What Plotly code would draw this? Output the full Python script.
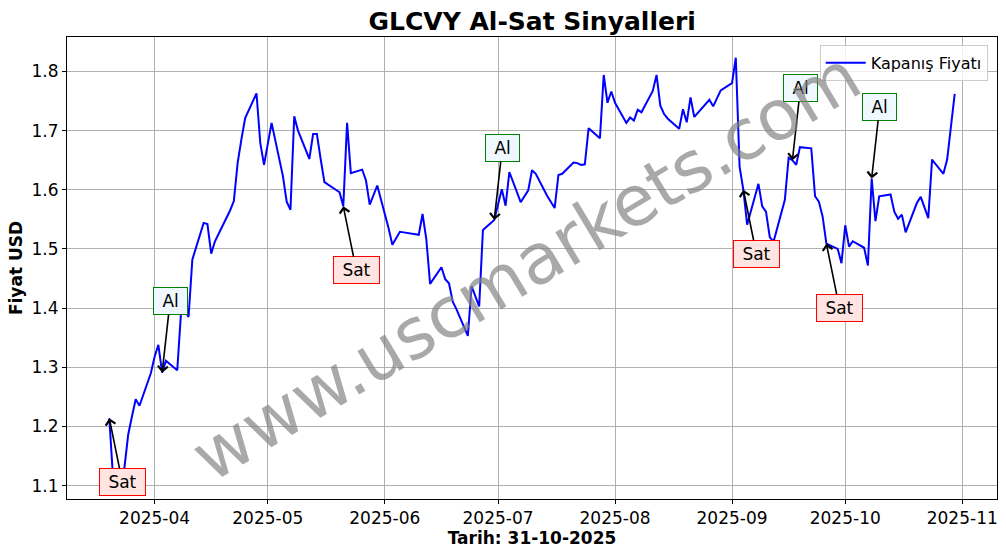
import plotly.graph_objects as go

dates = [
    "2025-03-20", "2025-03-21", "2025-03-24", "2025-03-25", "2025-03-26", "2025-03-27", "2025-03-28",
    "2025-03-31", "2025-04-01", "2025-04-02", "2025-04-03", "2025-04-04", "2025-04-07", "2025-04-08",
    "2025-04-09", "2025-04-10", "2025-04-11", "2025-04-14", "2025-04-15", "2025-04-16", "2025-04-17",
    "2025-04-21", "2025-04-22", "2025-04-23", "2025-04-24", "2025-04-25", "2025-04-28", "2025-04-29",
    "2025-04-30", "2025-05-01", "2025-05-02", "2025-05-05", "2025-05-06", "2025-05-07", "2025-05-08",
    "2025-05-09", "2025-05-12", "2025-05-13", "2025-05-14", "2025-05-15", "2025-05-16", "2025-05-19",
    "2025-05-20", "2025-05-21", "2025-05-22", "2025-05-23", "2025-05-26", "2025-05-27", "2025-05-28",
    "2025-05-29", "2025-05-30", "2025-06-02", "2025-06-03", "2025-06-04", "2025-06-05", "2025-06-06",
    "2025-06-09", "2025-06-10", "2025-06-11", "2025-06-12", "2025-06-13", "2025-06-16", "2025-06-17",
    "2025-06-18", "2025-06-19", "2025-06-20", "2025-06-23", "2025-06-24", "2025-06-25", "2025-06-26",
    "2025-06-27", "2025-06-30", "2025-07-01", "2025-07-02", "2025-07-03", "2025-07-04", "2025-07-07",
    "2025-07-08", "2025-07-09", "2025-07-10", "2025-07-11", "2025-07-14", "2025-07-15", "2025-07-16",
    "2025-07-17", "2025-07-18", "2025-07-21", "2025-07-22", "2025-07-23", "2025-07-24", "2025-07-25",
    "2025-07-28", "2025-07-29", "2025-07-30", "2025-07-31", "2025-08-01", "2025-08-04", "2025-08-05",
    "2025-08-06", "2025-08-07", "2025-08-08", "2025-08-11", "2025-08-12", "2025-08-13", "2025-08-14",
    "2025-08-15", "2025-08-18", "2025-08-19", "2025-08-20", "2025-08-21", "2025-08-22", "2025-08-25",
    "2025-08-26", "2025-08-27", "2025-08-28", "2025-08-29", "2025-09-01", "2025-09-02", "2025-09-03",
    "2025-09-04", "2025-09-05", "2025-09-08", "2025-09-09", "2025-09-10", "2025-09-11", "2025-09-12",
    "2025-09-15", "2025-09-16", "2025-09-17", "2025-09-18", "2025-09-19", "2025-09-22", "2025-09-23",
    "2025-09-24", "2025-09-25", "2025-09-26", "2025-09-29", "2025-09-30", "2025-10-01", "2025-10-02",
    "2025-10-03", "2025-10-06", "2025-10-07", "2025-10-08", "2025-10-09", "2025-10-10", "2025-10-13",
    "2025-10-14", "2025-10-15", "2025-10-16", "2025-10-17", "2025-10-20", "2025-10-21", "2025-10-22",
    "2025-10-23", "2025-10-24", "2025-10-27", "2025-10-28", "2025-10-29", "2025-10-30",
]

closes = [
    1.214, 1.113, 1.130, 1.186, 1.217, 1.246, 1.235,
    1.290, 1.318, 1.338, 1.291, 1.311, 1.295, 1.392,
    1.396, 1.385, 1.482, 1.544, 1.542, 1.492, 1.513,
    1.565, 1.581, 1.645, 1.685, 1.721, 1.763, 1.679,
    1.642, 1.680, 1.713, 1.623, 1.580, 1.566, 1.724,
    1.700, 1.652, 1.694, 1.694, 1.652, 1.613, 1.600,
    1.596, 1.572, 1.713, 1.628, 1.634, 1.616, 1.575,
    1.591, 1.607, 1.535, 1.507, 1.518, 1.529, 1.528,
    1.525, 1.524, 1.559, 1.516, 1.441, 1.469, 1.449,
    1.442, 1.411, 1.398, 1.353, 1.437, 1.420, 1.403,
    1.532, 1.549, 1.575, 1.601, 1.573, 1.630, 1.579,
    1.590, 1.599, 1.633, 1.627, 1.590, 1.580, 1.569,
    1.625, 1.627, 1.646, 1.645, 1.642, 1.643, 1.704,
    1.687, 1.794, 1.747, 1.766, 1.747, 1.713, 1.722,
    1.717, 1.735, 1.731, 1.767, 1.794, 1.742, 1.728,
    1.720, 1.703, 1.736, 1.714, 1.756, 1.723, 1.745,
    1.752, 1.741, 1.755, 1.768, 1.780, 1.823, 1.639,
    1.600, 1.541, 1.610, 1.572, 1.563, 1.520, 1.512,
    1.583, 1.654, 1.650, 1.642, 1.672, 1.670, 1.589,
    1.580, 1.555, 1.509, 1.500, 1.476, 1.540, 1.504,
    1.513, 1.502, 1.472, 1.619, 1.547, 1.589, 1.592,
    1.563, 1.551, 1.558, 1.528, 1.578, 1.588, 1.570,
    1.552, 1.651, 1.627, 1.651, 1.705, 1.762,
]

signal_dates = ["2025-03-20", "2025-04-03", "2025-05-21", "2025-06-30",
                "2025-09-04", "2025-09-17", "2025-09-26", "2025-10-08"]
signal_types = ["Sat", "Al", "Sat", "Al", "Sat", "Al", "Sat", "Al"]

x_tick_vals = ["2025-04-01", "2025-05-01", "2025-06-01", "2025-07-01",
               "2025-08-01", "2025-09-01", "2025-10-01", "2025-11-01"]
x_tick_text = ["2025-04", "2025-05", "2025-06", "2025-07",
               "2025-08", "2025-09", "2025-10", "2025-11"]
y_tick_vals = [1.1, 1.2, 1.3, 1.4, 1.5, 1.6, 1.7, 1.8]

FONT = "DejaVu Sans"

fig = go.Figure()
fig.add_trace(go.Scatter(
    x=dates, y=closes, mode="lines", name="Kapanış Fiyatı",
    line=dict(color="blue", width=2),
))

price_by_date = dict(zip(dates, closes))
for d, t in zip(signal_dates, signal_types):
    if t == "Sat":
        ax, ay = 13, 64
        bg, border = "#ffe4e1", "red"
    else:
        ax, ay = 8, -72
        bg, border = "#f0f8ff", "green"
    fig.add_annotation(
        x=d, y=price_by_date[d], xref="x", yref="y",
        text="\u00a0" + t + "\u00a0",
        showarrow=True, arrowhead=4, arrowsize=1.2, arrowwidth=1.6,
        arrowcolor="black", ax=ax, ay=ay, standoff=0,
        font=dict(family=FONT, size=17, color="black"),
        bgcolor=bg, bordercolor=border, borderwidth=1, borderpad=3,
    )

fig.add_annotation(
    text="www.uscmarkets.com", xref="paper", yref="paper",
    x=0.494, y=0.505, xanchor="center", yanchor="middle",
    textangle=-31, showarrow=False,
    font=dict(family=FONT, size=70, color="rgba(128,128,128,0.68)"),
)

fig.update_layout(
    width=1006, height=554,
    margin=dict(l=67, r=9, t=37, b=55, autoexpand=False),
    paper_bgcolor="white", plot_bgcolor="white",
    font=dict(family=FONT, size=15, color="black"),
    title=dict(text="<b>GLCVY Al-Sat Sinyalleri</b>", x=0.529, xanchor="center",
               y=0.962, yanchor="middle", yref="container",
               font=dict(family=FONT, size=25, color="black")),
    showlegend=True,
    legend=dict(x=0.99, y=0.983, xanchor="right", yanchor="top",
                bgcolor="rgba(255,255,255,0.8)", bordercolor="#cccccc", borderwidth=1,
                itemwidth=40, font=dict(family=FONT, size=16)),
)

fig.update_xaxes(
    type="date", range=["2025-03-08 19:00", "2025-11-10 05:00"],
    tickvals=x_tick_vals, ticktext=x_tick_text, automargin=False,
    showgrid=True, gridcolor="#b0b0b0", gridwidth=1,
    showline=True, linecolor="black", linewidth=1, mirror=True,
    ticks="outside", ticklen=4, tickcolor="black",
    tickfont=dict(family=FONT, size=17),
    title=dict(text="<b>Tarih: 31-10-2025</b>", font=dict(family=FONT, size=17), standoff=2),
    zeroline=False,
)
fig.update_yaxes(
    range=[1.0775, 1.8581], tickvals=y_tick_vals, tickformat=".1f", automargin=False,
    showgrid=True, gridcolor="#b0b0b0", gridwidth=1,
    showline=True, linecolor="black", linewidth=1, mirror=True,
    ticks="outside", ticklen=4, tickcolor="black",
    tickfont=dict(family=FONT, size=17),
    title=dict(text="<b>Fiyat USD</b>", font=dict(family=FONT, size=17), standoff=4),
    zeroline=False,
)

fig.write_html("out.html", config={"displayModeBar": False},
               post_script="document.body.style.margin='0';")
